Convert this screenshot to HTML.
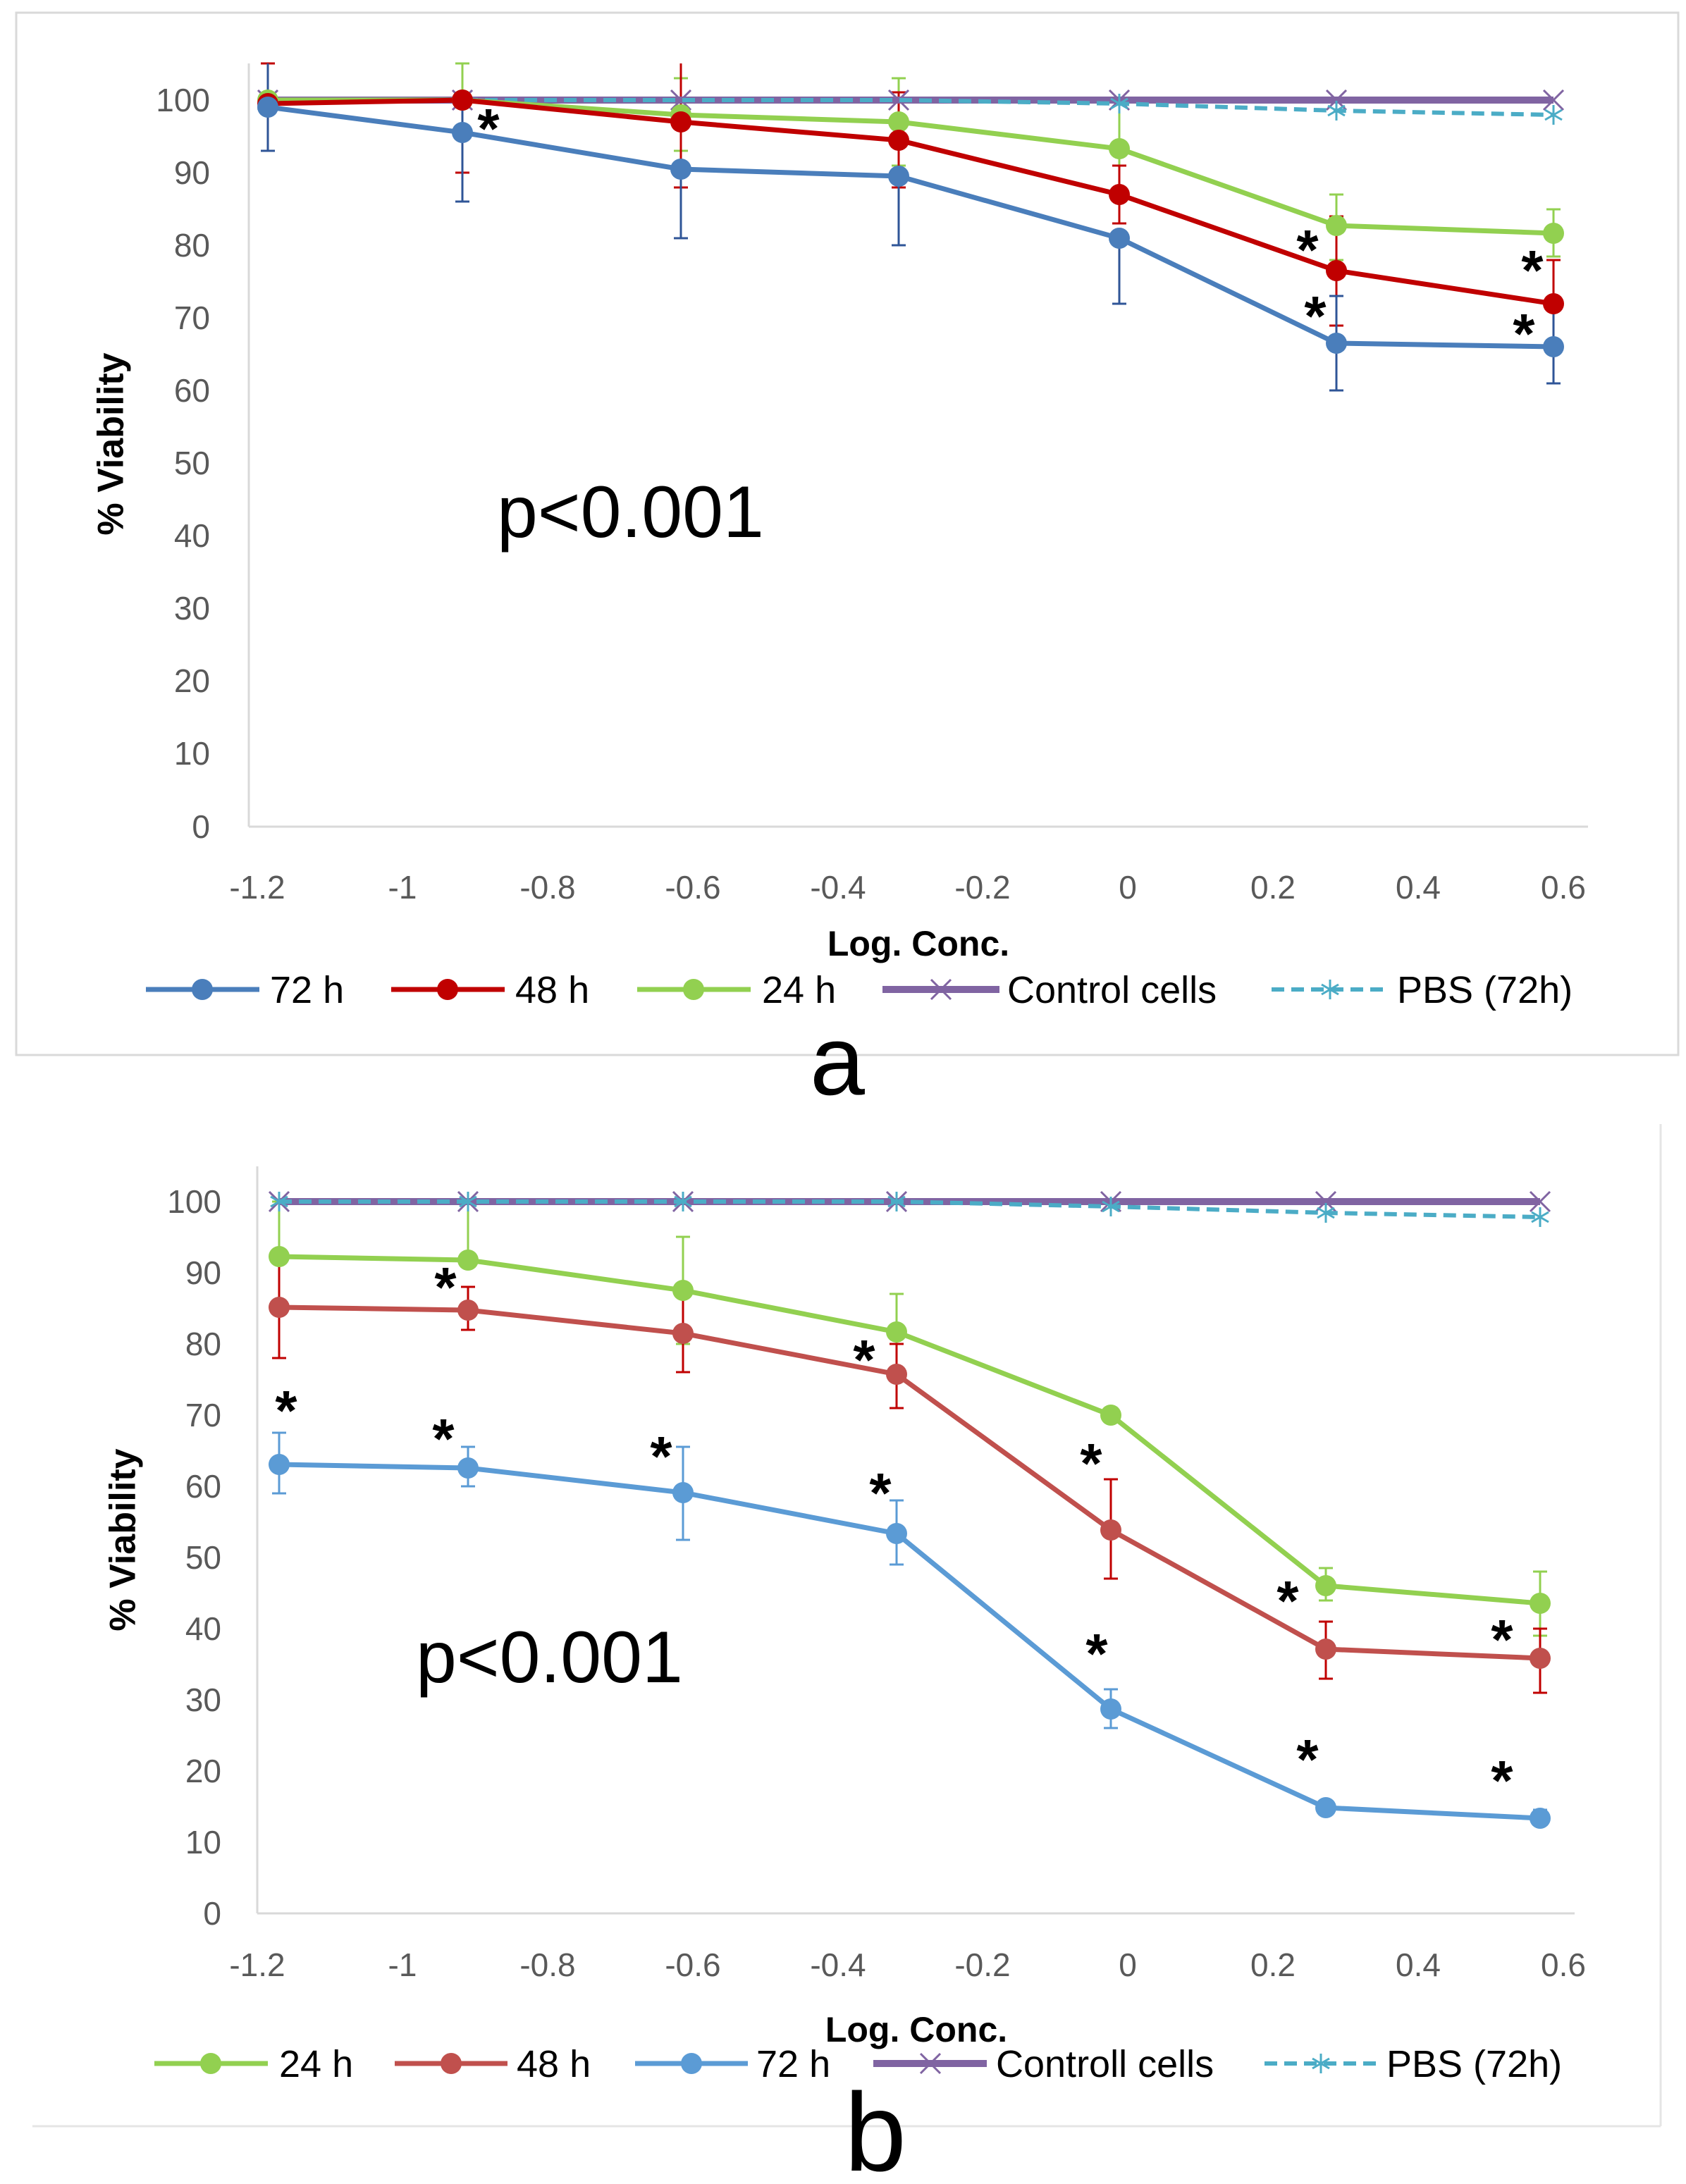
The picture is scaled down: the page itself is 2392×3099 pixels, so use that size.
<!DOCTYPE html>
<html><head><meta charset="utf-8"><style>
html,body{margin:0;padding:0;background:#fff}
svg{display:block}
text{font-family:"Liberation Sans",sans-serif}
.t{font-size:46px;fill:#595959}
.lg{font-size:54px;fill:#000}
.ast{font-size:80px;font-weight:bold;fill:#000}
</style></head><body>
<svg width="2392" height="3099" viewBox="0 0 2392 3099" xmlns="http://www.w3.org/2000/svg">
<rect x="23" y="18" width="2358" height="1479" fill="none" stroke="#d9d9d9" stroke-width="3"/>
<line x1="353" y1="90" x2="353" y2="1173" stroke="#d9d9d9" stroke-width="3"/>
<line x1="353" y1="1173" x2="2253" y2="1173" stroke="#d9d9d9" stroke-width="3"/>
<g class="t" text-anchor="end">
<text x="298" y="158">100</text><text x="298" y="261">90</text><text x="298" y="364">80</text><text x="298" y="467">70</text><text x="298" y="570">60</text><text x="298" y="673">50</text><text x="298" y="776">40</text><text x="298" y="879">30</text><text x="298" y="982">20</text><text x="298" y="1085">10</text><text x="298" y="1189">0</text>
</g>
<g class="t" text-anchor="middle">
<text x="365" y="1275">-1.2</text><text x="571" y="1275">-1</text><text x="777" y="1275">-0.8</text><text x="983" y="1275">-0.6</text><text x="1189" y="1275">-0.4</text><text x="1394" y="1275">-0.2</text><text x="1600" y="1275">0</text><text x="1806" y="1275">0.2</text><text x="2012" y="1275">0.4</text><text x="2218" y="1275">0.6</text>
</g>
<text x="161" y="630" transform="rotate(-90 161 630)" text-anchor="middle" font-size="52" font-weight="bold" dominant-baseline="middle">% Viability</text>
<text x="1303" y="1356" text-anchor="middle" font-size="50" font-weight="bold">Log. Conc.</text>
<text x="705" y="762" font-size="104">p&lt;0.001</text>
<g stroke-width="3" fill="none">
<g stroke="#92D050">
<path d="M380 214V90M370 214h20M370 90h20M656 245V90M646 245h20M646 90h20M966 214V111M956 214h20M956 111h20M1275 235V111M1265 235h20M1265 111h20M1588 276V152M1578 276h20M1896 369V276M1886 369h20M1886 276h20M2204 364V297M2194 364h20M2194 297h20"/>
</g>
<g stroke="#C00000">
<path d="M380 214V90M370 214h20M370 90h20M656 245V142M646 245h20M966 266V90M956 266h20M1275 266V131M1265 266h20M1265 131h20M1588 317V235M1578 317h20M1578 235h20M1896 462V307M1886 462h20M1886 307h20M2204 493V369M2194 493h20M2194 369h20"/>
</g>
<g stroke="#2F5597">
<path d="M380 214V90M370 214h20M656 286V152M646 286h20M966 338V240M956 338h20M1275 348V250M1265 348h20M1588 431V338M1578 431h20M1896 554V420M1886 554h20M1886 420h20M2204 544V441M2194 544h20"/>
</g>
</g>
<line x1="380" y1="142" x2="2204" y2="142" stroke="#8064A2" stroke-width="10"/>
<g stroke="#8064A2" stroke-width="3">
<path d="M366 128l28 28M394 128l-28 28M642 128l28 28M670 128l-28 28M952 128l28 28M980 128l-28 28M1261 128l28 28M1289 128l-28 28M1574 128l28 28M1602 128l-28 28M1882 128l28 28M1910 128l-28 28M2190 128l28 28M2218 128l-28 28"/>
</g>
<polyline points="380,142 656,142 966,142 1275,142 1588,147 1896,157 2204,163" fill="none" stroke="#4BACC6" stroke-width="6" stroke-dasharray="18,10"/>
<g stroke="#4BACC6" stroke-width="3">
<path d="M1588 133v28M1576 140l24 14M1600 140l-24 14M1896 143v28M1884 150l24 14M1908 150l-24 14M2204 149v28M2192 156l24 14M2216 156l-24 14"/>
</g>
<polyline points="380,142 656,142 966,163 1275,173 1588,211 1896,320 2204,331" fill="none" stroke="#92D050" stroke-width="7"/>
<polyline points="380,147 656,142 966,173 1275,199 1588,276 1896,384 2204,431" fill="none" stroke="#C00000" stroke-width="7"/>
<polyline points="380,152 656,188 966,240 1275,250 1588,338 1896,487 2204,492" fill="none" stroke="#4A7EBB" stroke-width="7"/>
<g fill="#92D050"><circle cx="380" cy="142" r="15"/><circle cx="656" cy="142" r="15"/><circle cx="966" cy="163" r="15"/><circle cx="1275" cy="173" r="15"/><circle cx="1588" cy="211" r="15"/><circle cx="1896" cy="320" r="15"/><circle cx="2204" cy="331" r="15"/></g>
<g fill="#C00000"><circle cx="380" cy="147" r="15"/><circle cx="656" cy="142" r="15"/><circle cx="966" cy="173" r="15"/><circle cx="1275" cy="199" r="15"/><circle cx="1588" cy="276" r="15"/><circle cx="1896" cy="384" r="15"/><circle cx="2204" cy="431" r="15"/></g>
<g fill="#4A7EBB"><circle cx="380" cy="152" r="15"/><circle cx="656" cy="188" r="15"/><circle cx="966" cy="240" r="15"/><circle cx="1275" cy="250" r="15"/><circle cx="1588" cy="338" r="15"/><circle cx="1896" cy="487" r="15"/><circle cx="2204" cy="492" r="15"/></g>
<g class="ast" text-anchor="middle">
<text x="693" y="210">*</text><text x="1855" y="382">*</text><text x="1866" y="476">*</text><text x="2174" y="411">*</text><text x="2162" y="501">*</text>
</g>
<line x1="207" y1="1404" x2="368" y2="1404" stroke="#4A7EBB" stroke-width="7"/><circle cx="287" cy="1404" r="15" fill="#4A7EBB"/><text class="lg" x="383" y="1423">72 h</text>
<line x1="555" y1="1404" x2="716" y2="1404" stroke="#C00000" stroke-width="7"/><circle cx="635" cy="1404" r="15" fill="#C00000"/><text class="lg" x="731" y="1423">48 h</text>
<line x1="904" y1="1404" x2="1065" y2="1404" stroke="#92D050" stroke-width="7"/><circle cx="984" cy="1404" r="15" fill="#92D050"/><text class="lg" x="1081" y="1423">24 h</text>
<line x1="1252" y1="1404" x2="1418" y2="1404" stroke="#8064A2" stroke-width="10"/><path d="M1321 1390l28 28M1349 1390l-28 28" stroke="#8064A2" stroke-width="3"/><text class="lg" x="1429" y="1423">Control cells</text>
<line x1="1804" y1="1404" x2="1970" y2="1404" stroke="#4BACC6" stroke-width="6" stroke-dasharray="18,10"/><path d="M1887 1390v28M1875 1397l24 14M1899 1397l-24 14" stroke="#4BACC6" stroke-width="3"/><text class="lg" x="1982" y="1423">PBS (72h)</text>
<text x="1188" y="1553" text-anchor="middle" font-size="140">a</text>

<line x1="2356" y1="1595" x2="2356" y2="3017" stroke="#e5e5e5" stroke-width="3"/>
<line x1="46" y1="3017" x2="2356" y2="3017" stroke="#e5e5e5" stroke-width="3"/>
<line x1="365" y1="1655" x2="365" y2="2715" stroke="#d9d9d9" stroke-width="3"/>
<line x1="365" y1="2715" x2="2234" y2="2715" stroke="#d9d9d9" stroke-width="3"/>
<g class="t" text-anchor="end">
<text x="314" y="1721">100</text><text x="314" y="1822">90</text><text x="314" y="1923">80</text><text x="314" y="2024">70</text><text x="314" y="2125">60</text><text x="314" y="2226">50</text><text x="314" y="2327">40</text><text x="314" y="2428">30</text><text x="314" y="2529">20</text><text x="314" y="2630">10</text><text x="314" y="2731">0</text>
</g>
<g class="t" text-anchor="middle">
<text x="365" y="2804">-1.2</text><text x="571" y="2804">-1</text><text x="777" y="2804">-0.8</text><text x="983" y="2804">-0.6</text><text x="1189" y="2804">-0.4</text><text x="1394" y="2804">-0.2</text><text x="1600" y="2804">0</text><text x="1806" y="2804">0.2</text><text x="2012" y="2804">0.4</text><text x="2218" y="2804">0.6</text>
</g>
<text x="178" y="2185" transform="rotate(-90 178 2185)" text-anchor="middle" font-size="52" font-weight="bold" dominant-baseline="middle">% Viability</text>
<text x="1300" y="2897" text-anchor="middle" font-size="50" font-weight="bold">Log. Conc.</text>
<text x="590" y="2387" font-size="104">p&lt;0.001</text>
<g stroke-width="3" fill="none">
<g stroke="#92D050"><path d="M396 1783V1705M386 1705h20M664 1788V1705M654 1705h20M969 1907V1755M959 1907h20M959 1755h20M1272 1942V1836M1262 1942h20M1262 1836h20M1576 2018V1998M1566 2018h20M1566 1998h20M1881 2271V2225M1871 2271h20M1871 2225h20M2185 2321V2230M2175 2321h20M2175 2230h20"/></g>
<g stroke="#C00000"><path d="M396 1927V1786M386 1927h20M664 1887V1826M654 1887h20M654 1826h20M969 1947V1836M959 1947h20M1272 1998V1907M1262 1998h20M1262 1907h20M1576 2240V2099M1566 2240h20M1566 2099h20M1881 2382V2301M1871 2382h20M1871 2301h20M2185 2402V2311M2175 2402h20M2175 2311h20"/></g>
<g stroke="#5B9BD5"><path d="M396 2119V2033M386 2119h20M386 2033h20M664 2109V2053M654 2109h20M654 2053h20M969 2185V2053M959 2185h20M959 2053h20M1272 2220V2129M1262 2220h20M1262 2129h20M1576 2452V2397M1566 2452h20M1566 2397h20M2185 2589V2568M2175 2589h20M2175 2568h20"/></g>
</g>
<line x1="396" y1="1705" x2="2185" y2="1705" stroke="#8064A2" stroke-width="10"/>
<g stroke="#8064A2" stroke-width="3">
<path d="M382 1691l28 28M410 1691l-28 28M650 1691l28 28M678 1691l-28 28M955 1691l28 28M983 1691l-28 28M1258 1691l28 28M1286 1691l-28 28M1562 1691l28 28M1590 1691l-28 28M1867 1691l28 28M1895 1691l-28 28M2171 1691l28 28M2199 1691l-28 28"/>
</g>
<polyline points="396,1705 664,1705 969,1705 1272,1705 1576,1712 1881,1721 2185,1727" fill="none" stroke="#4BACC6" stroke-width="6" stroke-dasharray="18,10"/>
<g stroke="#4BACC6" stroke-width="3">
<path d="M396 1691v28M384 1698l24 14M408 1698l-24 14M664 1691v28M652 1698l24 14M676 1698l-24 14M969 1691v28M957 1698l24 14M981 1698l-24 14M1272 1691v28M1260 1698l24 14M1284 1698l-24 14M1576 1698v28M1564 1705l24 14M1588 1705l-24 14M1881 1707v28M1869 1714l24 14M1893 1714l-24 14M2185 1713v28M2173 1720l24 14M2197 1720l-24 14"/>
</g>
<polyline points="396,1783 664,1788 969,1831 1272,1890 1576,2008 1881,2250 2185,2275" fill="none" stroke="#92D050" stroke-width="7"/>
<polyline points="396,1855 664,1859 969,1892 1272,1950 1576,2171 1881,2340 2185,2353" fill="none" stroke="#C0504D" stroke-width="7"/>
<polyline points="396,2078 664,2083 969,2118 1272,2176 1576,2425 1881,2565 2185,2580" fill="none" stroke="#5B9BD5" stroke-width="7"/>
<g fill="#92D050"><circle cx="396" cy="1783" r="15"/><circle cx="664" cy="1788" r="15"/><circle cx="969" cy="1831" r="15"/><circle cx="1272" cy="1890" r="15"/><circle cx="1576" cy="2008" r="15"/><circle cx="1881" cy="2250" r="15"/><circle cx="2185" cy="2275" r="15"/></g>
<g fill="#C0504D"><circle cx="396" cy="1855" r="15"/><circle cx="664" cy="1859" r="15"/><circle cx="969" cy="1892" r="15"/><circle cx="1272" cy="1950" r="15"/><circle cx="1576" cy="2171" r="15"/><circle cx="1881" cy="2340" r="15"/><circle cx="2185" cy="2353" r="15"/></g>
<g fill="#5B9BD5"><circle cx="396" cy="2078" r="15"/><circle cx="664" cy="2083" r="15"/><circle cx="969" cy="2118" r="15"/><circle cx="1272" cy="2176" r="15"/><circle cx="1576" cy="2425" r="15"/><circle cx="1881" cy="2565" r="15"/><circle cx="2185" cy="2580" r="15"/></g>
<g class="ast" text-anchor="middle">
<text x="406" y="2029">*</text><text x="629" y="2069">*</text><text x="938" y="2094">*</text><text x="1249" y="2146">*</text><text x="1548" y="2104">*</text><text x="1556" y="2374">*</text><text x="1855" y="2524">*</text><text x="2131" y="2554">*</text><text x="632" y="1854">*</text><text x="1226" y="1957">*</text><text x="1827" y="2299">*</text><text x="2131" y="2354">*</text>
</g>
<line x1="219" y1="2928" x2="380" y2="2928" stroke="#92D050" stroke-width="7"/><circle cx="299" cy="2928" r="15" fill="#92D050"/><text class="lg" x="396" y="2947">24 h</text>
<line x1="560" y1="2928" x2="720" y2="2928" stroke="#C0504D" stroke-width="7"/><circle cx="640" cy="2928" r="15" fill="#C0504D"/><text class="lg" x="733" y="2947">48 h</text>
<line x1="901" y1="2928" x2="1061" y2="2928" stroke="#5B9BD5" stroke-width="7"/><circle cx="981" cy="2928" r="15" fill="#5B9BD5"/><text class="lg" x="1073" y="2947">72 h</text>
<line x1="1239" y1="2928" x2="1400" y2="2928" stroke="#8064A2" stroke-width="10"/><path d="M1306 2914l28 28M1334 2914l-28 28" stroke="#8064A2" stroke-width="3"/><text class="lg" x="1413" y="2947">Controll cells</text>
<line x1="1794" y1="2928" x2="1955" y2="2928" stroke="#4BACC6" stroke-width="6" stroke-dasharray="18,10"/><path d="M1874 2914v28M1862 2921l24 14M1886 2921l-24 14" stroke="#4BACC6" stroke-width="3"/><text class="lg" x="1967" y="2947">PBS (72h)</text>
<text x="1242" y="3080" text-anchor="middle" font-size="158">b</text>
</svg>
</body></html>
